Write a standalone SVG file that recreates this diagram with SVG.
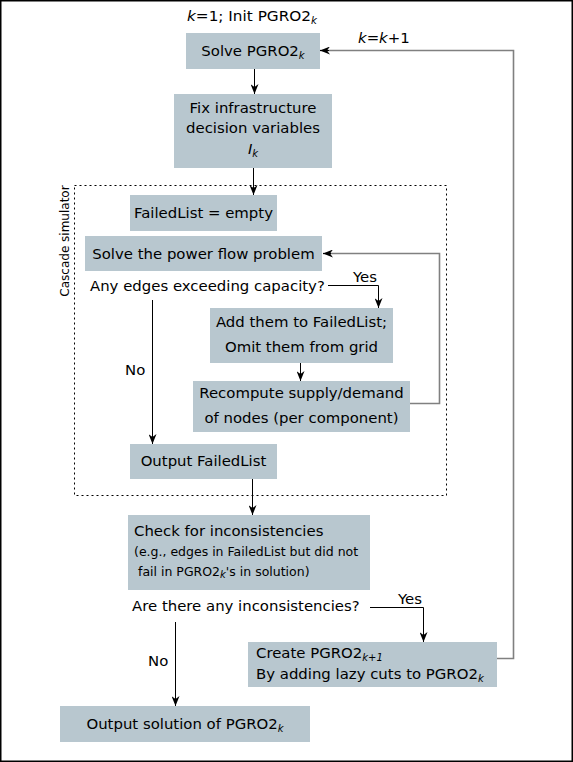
<svg xmlns="http://www.w3.org/2000/svg" width="573" height="762" viewBox="0 0 573 762">
<defs>
<style>
text{font-family:"DejaVu Sans",Verdana,sans-serif;font-size:14.9px;fill:#000}
.c{text-anchor:middle}
.s{font-size:12.5px}
.r{font-size:12px}
.box{fill:#b8c7cf;stroke:none}
.ln{fill:none;stroke:#000;stroke-width:1}
.gl{fill:none;stroke:#808080;stroke-width:1.6}
.it{font-style:italic}
.sb{font-size:10px;font-style:italic}
</style>
<marker id="ah" viewBox="0 0 10 8" refX="10" refY="4" markerWidth="10" markerHeight="8" markerUnits="userSpaceOnUse" orient="auto">
<path d="M0,0 L10,4 L0,8 L3,4 z" fill="#000"/>
</marker>
</defs>
<rect x="0.75" y="0.75" width="571.5" height="760.5" fill="#fff" stroke="#000" stroke-width="1.5"/>

<g id="cascade-frame">
<rect x="74.5" y="185.5" width="372" height="310" fill="none" stroke="#000" stroke-width="1" stroke-dasharray="2,3"/>
<text class="c r" transform="translate(69,241) rotate(-90)">Cascade simulator</text>
</g>

<g id="init-label"><text x="187" y="21" textLength="130" lengthAdjust="spacingAndGlyphs"><tspan class="it">k</tspan>=1; Init PGRO2<tspan class="sb" dy="3">k</tspan></text></g>

<g id="solve-pgro"><rect class="box" x="186" y="33" width="134" height="36"/>
<text class="c" x="253" y="56">Solve PGRO2<tspan class="sb" dy="3">k</tspan></text></g>

<g id="fix-infra"><rect class="box" x="174" y="94" width="158" height="74"/>
<text class="c" x="253" y="113">Fix infrastructure</text>
<text class="c" x="253" y="133">decision variables</text>
<text class="c" x="253" y="154"><tspan class="it">I</tspan><tspan class="sb" dy="3">k</tspan></text></g>

<g id="failedlist-empty"><rect class="box" x="130" y="195" width="147" height="36"/>
<text class="c" x="203.5" y="218">FailedList = empty</text></g>

<g id="solve-power-flow"><rect class="box" x="85" y="236" width="237" height="35"/>
<text class="c" x="203.5" y="259">Solve the power flow problem</text></g>

<g id="any-edges"><text x="90" y="291">Any edges exceeding capacity?</text></g>

<g id="add-failed"><rect class="box" x="210" y="308" width="183" height="55"/>
<text class="c" x="301.5" y="327">Add them to FailedList;</text>
<text class="c" x="301.5" y="352">Omit them from grid</text></g>

<g id="recompute"><rect class="box" x="193" y="381" width="217" height="51"/>
<text class="c" x="301.5" y="398">Recompute supply/demand</text>
<text class="c" x="301.5" y="423">of nodes (per component)</text></g>

<g id="output-failedlist"><rect class="box" x="130" y="444" width="147" height="35"/>
<text class="c" x="203.5" y="466">Output FailedList</text></g>

<g id="check"><rect class="box" x="128" y="515" width="242" height="75"/>
<text x="134" y="536">Check for inconsistencies</text>
<text class="s" x="134" y="556">(e.g., edges in FailedList but did not</text>
<text class="s" x="138" y="576">fail in PGRO2<tspan class="sb" dy="2">k</tspan><tspan dy="-2">'s in solution)</tspan></text></g>

<g id="any-inconsistencies"><text x="132" y="611">Are there any inconsistencies?</text></g>

<g id="create"><rect class="box" x="248" y="642" width="249" height="45"/>
<text x="256" y="658">Create PGRO2<tspan class="sb" dy="3">k+1</tspan></text>
<text x="256" y="679">By adding lazy cuts to PGRO2<tspan class="sb" dy="3">k</tspan></text></g>

<g id="output-solution"><rect class="box" x="60" y="706" width="250" height="36"/>
<text class="c" x="185" y="729">Output solution of PGRO2<tspan class="sb" dy="3">k</tspan></text></g>

<g id="connectors">
<path class="ln" d="M254.5,69 V94" marker-end="url(#ah)"/>
<path class="ln" d="M253.5,168 V195" marker-end="url(#ah)"/>
<path class="ln" d="M328,285.5 H378.5 V308" marker-end="url(#ah)"/>
<text x="353" y="282">Yes</text>
<path class="ln" d="M300.5,363 V381" marker-end="url(#ah)"/>
<path class="gl" d="M410,403.5 H439.5 V253.5 H323"/>
<path class="ln" d="M331,253.5 H323" marker-end="url(#ah)"/>
<path class="ln" d="M152.5,300 V444" marker-end="url(#ah)"/>
<text x="125" y="375">No</text>
<path class="ln" d="M252.5,479 V515" marker-end="url(#ah)"/>
<path class="ln" d="M370,607.5 H423.5 V642" marker-end="url(#ah)"/>
<text x="398" y="604">Yes</text>
<path class="ln" d="M175.5,622 V706" marker-end="url(#ah)"/>
<text x="148" y="666">No</text>
<path class="gl" d="M497,658.5 H513.5 V50.5 H320"/>
<path class="ln" d="M329,50.5 H320" marker-end="url(#ah)"/>
<text x="358" y="43"><tspan class="it">k</tspan>=<tspan class="it">k</tspan>+1</text>
</g>
</svg>
